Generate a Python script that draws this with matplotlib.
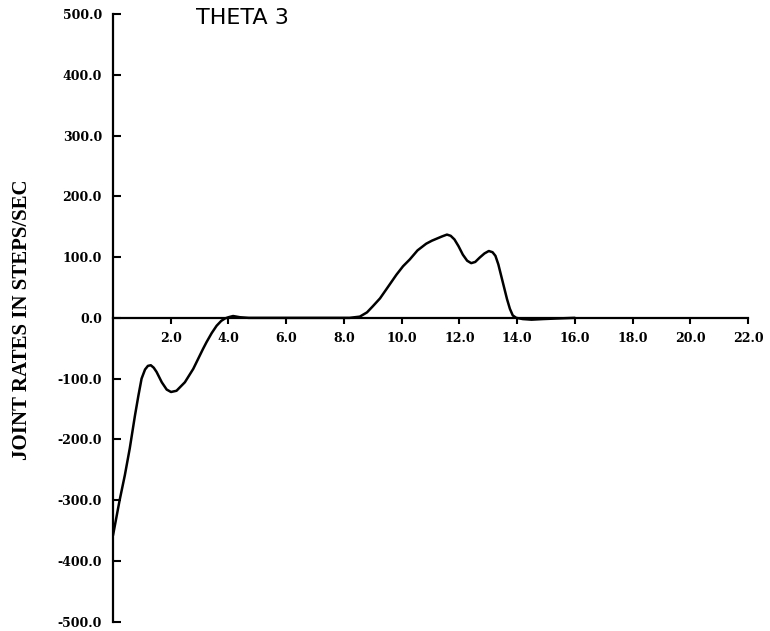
import numpy as np
import matplotlib
matplotlib.use('Agg')
import matplotlib.pyplot as plt

# Theta 3 joint rate curve
t = [0.0, 0.23, 0.41, 0.58, 0.76, 0.88, 0.99, 1.11, 1.21, 1.31, 1.41, 1.51,
     1.69, 1.86, 2.01, 2.2, 2.49, 2.78, 3.12, 3.24, 3.42, 3.59, 3.75, 3.88, 4.0,
     4.16, 4.4, 4.7, 5.5, 7.0, 8.2, 8.55, 8.8, 9.0, 9.25, 9.47, 9.82, 10.05, 10.28,
     10.55, 10.85, 11.05, 11.2, 11.4, 11.57, 11.7, 11.83, 11.97, 12.12, 12.27, 12.41,
     12.55, 12.7, 12.87, 13.02, 13.15, 13.25, 13.35, 13.45, 13.55, 13.65, 13.75,
     13.85, 13.97, 14.2, 14.5, 14.9, 15.4, 16.0]
rate = [-358, -300, -259, -215, -161, -128, -100, -85, -79, -78, -82, -89,
        -106, -118, -122, -120, -106, -84, -51, -40, -25, -13, -5, -1, 1,
        3, 1, 0, 0, 0, 0, 2, 9, 19, 32, 47, 71, 85, 96,
        111, 122, 127, 130, 134, 137, 135, 129, 118, 104, 94, 90,
        92, 99, 106, 110, 108, 102, 88, 69, 50, 31, 15,
        4, 0, -2, -3, -2, -1, 0]

yticks = np.arange(-500, 501, 100)
xticks = np.arange(2, 23, 2)

fig = plt.figure(figsize=(7.7, 6.31), dpi=100)
ax = fig.add_axes([113 / 770, 9.3 / 631, 635 / 770, 607.7 / 631])

ax.plot(t, rate, color='black', linewidth=1.8, solid_capstyle='round')

ax.set_xlim(0, 22)
ax.set_ylim(-500, 500)

ax.spines['top'].set_visible(False)
ax.spines['right'].set_visible(False)
ax.spines['bottom'].set_position(('data', 0))
ax.spines['bottom'].set_linewidth(1.6)
ax.spines['left'].set_linewidth(1.6)

ax.set_yticks(yticks)
ax.set_yticklabels(['%.1f' % v for v in yticks])
ax.set_xticks(xticks)
ax.set_xticklabels(['%.1f' % v for v in xticks])

ax.tick_params(axis='y', direction='in', length=6, width=1.5, pad=8)
ax.tick_params(axis='x', direction='out', length=4.5, width=1.5, pad=6)
for lab in ax.get_xticklabels() + ax.get_yticklabels():
    lab.set_fontfamily('DejaVu Serif')
    lab.set_fontweight('bold')
    lab.set_fontsize(9)

fig.text(22 / 770, 1 - 320 / 631, 'JOINT RATES IN STEPS/SEC', rotation=90,
         ha='center', va='center', fontfamily='Liberation Serif',
         fontweight='bold', fontsize=15)
fig.text(196 / 770, 1 - 18 / 631, 'THETA 3', ha='left', va='center',
         fontfamily='DejaVu Sans', fontsize=16)

fig.savefig('out.png', dpi=100)
